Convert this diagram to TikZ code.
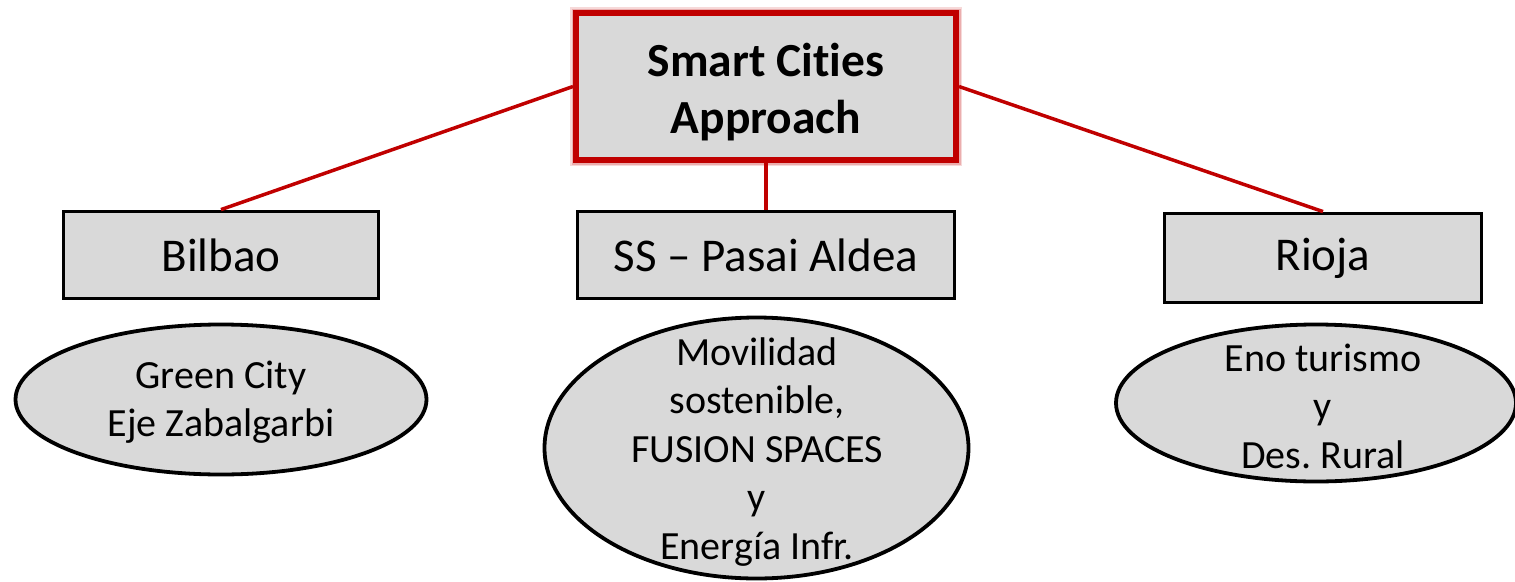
\documentclass[tikz,border=0pt]{standalone}
\usepackage{fontspec}
\setmainfont{Carlito}[RawFeature=-liga]
\usetikzlibrary{shapes.geometric}
\definecolor{boxfill}{HTML}{D9D9D9}
\definecolor{linkred}{HTML}{C00000}
\tikzset{
  citybox/.style={draw=black, line width=3.8pt, fill=boxfill, rectangle, inner sep=0pt,
    font=\fontsize{47}{56}\selectfont},
  topicell/.style={draw=black, line width=3.8pt, fill=boxfill, ellipse, inner sep=0pt},
  topictext/.style={inner sep=0pt, align=center, font=\fontsize{40}{48.5}\selectfont},
  rootbox/.style={draw=linkred, line width=6pt, fill=boxfill, rectangle, inner sep=0pt},
  roottext/.style={inner sep=0pt, align=center, font=\bfseries\fontsize{47.5}{57}\selectfont},
  link/.style={draw=linkred, line width=3.5pt}
}
\begin{document}
\frenchspacing
\begin{tikzpicture}[x=1pt,y=-1pt]
\useasboundingbox (0,0) rectangle (1515,581);
% glow behind root box
\draw[draw=linkred, line width=12pt, opacity=0.15] (576,13) rectangle (956,160);
\draw[draw=linkred, line width=9pt, opacity=0.2] (576,13) rectangle (956,160);
\node[rootbox, minimum width=380pt, minimum height=147pt] (root) at (766,86.5) {};
\node[roottext] (roottxt) at (766,92) {Smart Cities\\Approach};
\node[citybox, minimum width=315pt, minimum height=87pt] (bilbao) at (221,255) {Bilbao};
\node[citybox, minimum width=377pt, minimum height=87pt] (ss) at (766,255) {SS – Pasai Aldea};
\node[citybox, minimum width=317pt, minimum height=89pt] (rioja) at (1323,258) {Rioja};
\node[topicell, minimum width=411pt, minimum height=150pt] (green) at (221,399.5) {};
\node[topictext] (greentxt) at (221,402) {Green City\\Eje Zabalgarbi};
\node[topicell, minimum width=424pt, minimum height=261pt] (movil) at (756.5,448) {};
\node[topictext] (moviltxt) at (757,452) {Movilidad\\sostenible,\\FUSION SPACES\\y\\Energía Infr.};
\node[topicell, minimum width=400pt, minimum height=157pt] (eno) at (1316,403) {};
\node[topictext] (enotxt) at (1323,406) {Eno turismo\\y\\Des. Rural};
\draw[link] (root.west) -- (bilbao.north);
\draw[link] (root.south) -- (ss.north);
\draw[link] (root.east) -- (rioja.north);
\end{tikzpicture}
\end{document}
